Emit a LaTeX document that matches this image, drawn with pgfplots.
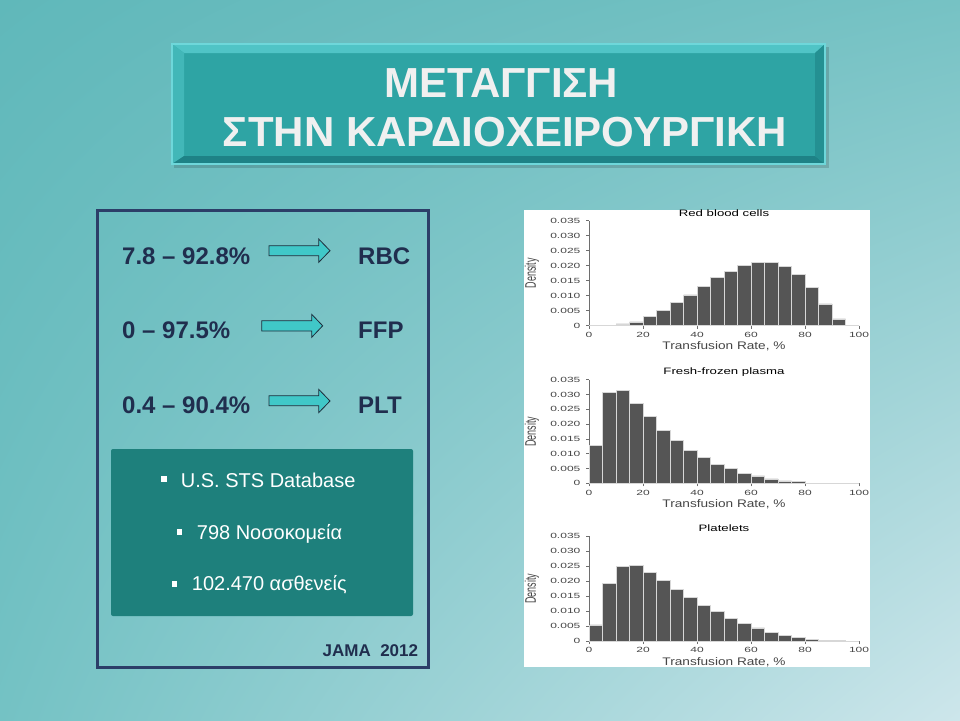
\documentclass[border=0pt]{standalone}
\usepackage{fontspec}
\setmainfont{Liberation Sans}
\usepackage{pgfplots}
\usepackage{pgfplotstable}
\usetikzlibrary{shadings}
\pgfplotsset{compat=1.18}
\definecolor{bgUL}{RGB}{96,184,186}
\definecolor{bgUR}{RGB}{118,194,196}
\definecolor{bgLL}{RGB}{116,194,196}
\definecolor{bgLR}{RGB}{205,230,235}
\definecolor{navytext}{RGB}{32,46,78}
\definecolor{boxborder}{RGB}{44,62,104}
\definecolor{arrowfill}{RGB}{64,200,200}
\definecolor{arrowdraw}{RGB}{30,45,60}
\definecolor{innerbox}{RGB}{30,128,124}
\definecolor{titleTop}{RGB}{46,164,164}
\definecolor{titleEdge}{RGB}{110,215,218}
\definecolor{bevelLight}{RGB}{80,196,198}
\definecolor{bevelDark}{RGB}{30,130,134}
\definecolor{histgray}{RGB}{85,85,85}
\definecolor{barline}{RGB}{215,215,215}
\definecolor{tickgray}{RGB}{110,110,110}
\definecolor{labgray}{RGB}{70,70,70}

\pgfplotstableread{
x y
0 0.0002
5 0
10 0.0006
15 0.0013
20 0.0031
25 0.0051
30 0.0077
35 0.0103
40 0.0132
45 0.0161
50 0.0182
55 0.0202
60 0.0211
65 0.0211
70 0.0198
75 0.0170
80 0.0127
85 0.0073
90 0.0023
95 0
100 0
}\rbc

\pgfplotstableread{
x y
0 0.0127
5 0.0306
10 0.0313
15 0.0271
20 0.0225
25 0.0180
30 0.0144
35 0.0111
40 0.0087
45 0.0064
50 0.0050
55 0.0034
60 0.0025
65 0.0015
70 0.0008
75 0.0006
80 0.0001
85 0.00005
90 0
95 0
100 0
}\ffp

\pgfplotstableread{
x y
0 0.0054
5 0.0192
10 0.0248
15 0.0251
20 0.0229
25 0.0201
30 0.0172
35 0.0146
40 0.0119
45 0.0098
50 0.0076
55 0.0059
60 0.0044
65 0.0030
70 0.0019
75 0.0012
80 0.0006
85 0.0002
90 0.0001
95 0
100 0
}\plt

\pgfplotsset{histax/.style={
  scale only axis, width=270pt, height=105pt, anchor=south west,
  xmin=0, xmax=100, ymin=0, ymax=0.035,
  axis lines*=left,
  axis line style={tickgray, line width=0.5pt},
  tick align=outside, tick style={tickgray, line width=0.5pt},
  major tick length=3pt,
  xtick={0,20,40,60,80,100},
  ytick={0,0.005,0.01,0.015,0.02,0.025,0.03,0.035},
  yticklabels={0,0.005,0.010,0.015,0.020,0.025,0.030,0.035},
  scaled y ticks=false,
  /pgf/number format/assume math mode=true,
  ticklabel style={font=\fontsize{7.5}{8}\selectfont, text=labgray, xscale=1.6},
  xlabel={Transfusion Rate, \%},
  ylabel={Density},
  xlabel style={font=\fontsize{11}{12}\selectfont, text=labgray, at={(axis description cs:0.5,-0.2)}, anchor=center, xscale=1.24},
  ylabel style={font=\fontsize{9}{10}\selectfont, text=labgray, at={(axis description cs:-0.211,0.5)}, anchor=center, yscale=1.7},
  every axis title/.style={font=\fontsize{9.3}{10}\selectfont, text=black, at={(axis description cs:0.5,1.07)}, anchor=center, xscale=1.42},
  clip=false,
}}

\begin{document}
\begin{tikzpicture}
\begin{scope}[x=1pt,y=-1pt]
\useasboundingbox (0,0) rectangle (960,720);
\shade[upper left=bgUL, upper right=bgUR, lower left=bgLL, lower right=bgLR] (0,0) rectangle (960,720);

% title box
\fill[black, opacity=0.15] (174,47) rectangle (829,168);
\fill[titleTop] (172,44) rectangle (825,164);
\fill[bevelLight] (172,44) -- (825,44) -- (815,53) -- (184,53) -- cycle;
\fill[bevelLight!60!titleTop] (172,44) -- (184,53) -- (184,156) -- (172,164) -- cycle;
\fill[bevelDark] (172,164) -- (184,156) -- (815,156) -- (825,164) -- cycle;
\fill[bevelDark!60!titleTop] (825,44) -- (815,53) -- (815,156) -- (825,164) -- cycle;
\draw[titleEdge, line width=1.2pt] (172,44) rectangle (825,164);
\node[font=\fontsize{42}{42}\selectfont\bfseries, text=white!94!black, anchor=base] at (501.5,97) {ΜΕΤΑΓΓΙΣΗ};
\node[font=\fontsize{42}{42}\selectfont\bfseries, text=white!94!black, anchor=base] at (505,146.7) {ΣΤΗΝ ΚΑΡΔΙΟΧΕΙΡΟΥΡΓΙΚΗ};

% left box
\draw[boxborder, line width=3pt] (97,210) rectangle (428,667);
\node[font=\fontsize{24}{24}\selectfont\bfseries, text=navytext, anchor=base west, inner sep=0pt] at (122,264) {7.8 – 92.8\%};
\node[font=\fontsize{24}{24}\selectfont\bfseries, text=navytext, anchor=base west, inner sep=0pt] at (122,338.3) {0 – 97.5\%};
\node[font=\fontsize{24}{24}\selectfont\bfseries, text=navytext, anchor=base west, inner sep=0pt] at (122,413.3) {0.4 – 90.4\%};
\node[font=\fontsize{24}{24}\selectfont\bfseries, text=navytext, anchor=base west, inner sep=0pt] at (358,264) {RBC};
\node[font=\fontsize{24}{24}\selectfont\bfseries, text=navytext, anchor=base west, inner sep=0pt] at (358,338.3) {FFP};
\node[font=\fontsize{24}{24}\selectfont\bfseries, text=navytext, anchor=base west, inner sep=0pt] at (358,413.3) {PLT};

% block arrows
\filldraw[fill=arrowfill, draw=arrowdraw, line width=0.8pt] (269,245.7) -- (318.7,245.7) -- (318.7,239) -- (330,250.7) -- (318.7,262.3) -- (318.7,255.7) -- (269,255.7) -- cycle;
\filldraw[fill=arrowfill, draw=arrowdraw, line width=0.8pt] (261.7,320.7) -- (311.7,320.7) -- (311.7,314.3) -- (322.7,325.8) -- (311.7,337.3) -- (311.7,331) -- (261.7,331) -- cycle;
\filldraw[fill=arrowfill, draw=arrowdraw, line width=0.8pt] (269,395.7) -- (318.7,395.7) -- (318.7,389.3) -- (330,401) -- (318.7,412.7) -- (318.7,405.7) -- (269,405.7) -- cycle;

% inner box
\fill[innerbox, rounded corners=2pt] (111,449) rectangle (413,616);
\fill[white] (161,476) rectangle (166.7,481.7);
\fill[white] (176.7,529.3) rectangle (182.3,535);
\fill[white] (171.7,581) rectangle (177.3,586.7);
\node[font=\fontsize{20}{20}\selectfont, text=white, anchor=base west, inner sep=0pt] at (180.7,487.3) {U.S. STS Database};
\node[font=\fontsize{20}{20}\selectfont, text=white, anchor=base west, inner sep=0pt] at (196.7,539.3) {798 Νοσοκομεία};
\node[font=\fontsize{20}{20}\selectfont, text=white, anchor=base west, inner sep=0pt] at (191.7,590.7) {102.470 ασθενείς};
\node[font=\fontsize{17}{17}\selectfont\bfseries, text=navytext, anchor=base east, inner sep=0pt] at (418.3,656) {JAMA\ \ 2012};

% right panel
\fill[white] (524,210) rectangle (870,667);
\end{scope}

\begin{axis}[histax, at={(589pt,-325.7pt)}, title={Red blood cells}]
\addplot[ybar interval, fill=histgray, draw=barline, line width=0.6pt] table[x=x,y=y] {\rbc};
\end{axis}
\begin{axis}[histax, at={(589pt,-483.3pt)}, height=103.6pt, title={Fresh-frozen plasma}]
\addplot[ybar interval, fill=histgray, draw=barline, line width=0.6pt] table[x=x,y=y] {\ffp};
\end{axis}
\begin{axis}[histax, at={(589pt,-641pt)}, title={Platelets}]
\addplot[ybar interval, fill=histgray, draw=barline, line width=0.6pt] table[x=x,y=y] {\plt};
\end{axis}
\end{tikzpicture}
\end{document}
